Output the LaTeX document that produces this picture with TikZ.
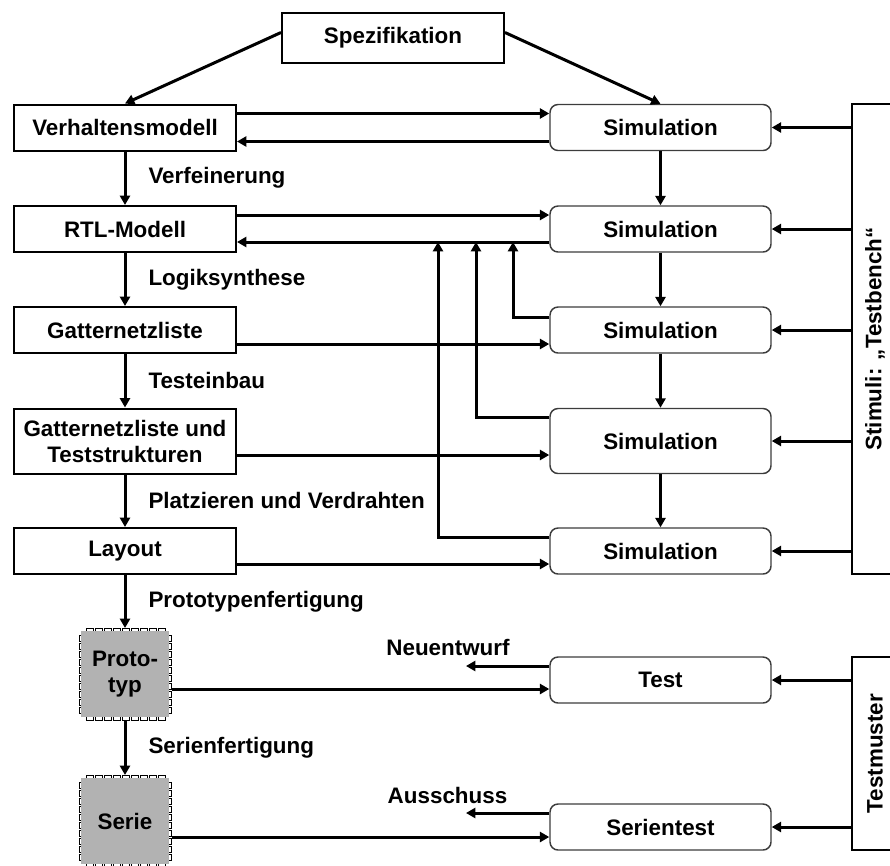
\documentclass[tikz,border=0pt]{standalone}
\usepackage{fontspec}
\usepackage{graphicx}
\setmainfont{Liberation Sans}
\usetikzlibrary{arrows.meta,calc}
\definecolor{chipgrau}{RGB}{178,178,178}
\definecolor{simrand}{RGB}{60,60,60}

\begin{document}
\begin{tikzpicture}[x=0.75pt, y=-0.75pt,
  font=\fontsize{16.8}{19.5}\selectfont\bfseries,
  pfeil/.style={-{Triangle[length=7pt,width=7.5pt]}, line width=2.25pt},
  linie/.style={line width=2.25pt},
  modell/.style={draw, line width=1.5pt, minimum width=166.5pt, minimum height=34.5pt, align=center, inner sep=0pt},
  sim/.style={draw=simrand, line width=1.1pt, rounded corners=6pt, minimum width=165.75pt, minimum height=34.5pt, inner sep=0pt},
  stimbox/.style={draw, line width=1.5pt, minimum width=34.5pt, inner sep=0pt},
  chip/.style={fill=chipgrau, minimum width=66pt, minimum height=64.5pt, align=center, inner sep=0pt, outer sep=2.25pt},
  pin/.style={draw, fill=white, line width=0.6pt},
  lbl/.style={anchor=west, inner sep=0pt, xshift=16.5pt}]
  \clip (0,0) rectangle (890,865);

  % linke Spalte
  \node[modell, minimum height=37.5pt] at (393,37.5) (spez) {Spezifikation};
  \node[modell] at (125,127.5) (verh) {Verhaltensmodell};
  \node[modell] at (125,229) (rtl) {RTL-Modell};
  \node[modell] at (125,330) (gnl) {Gatternetzliste};
  \node[modell, minimum height=48.75pt] at (125,441) (gts) {Gatternetzliste und\\Teststrukturen};
  \node[modell] at (125,551) (lay) {Layout};

  % Chips mit Pins
  \foreach \cy in {674,821} {
    \foreach \k in {0,...,8} {
      \draw[pin] (86+9*\k,\cy-46) rectangle ++(7,5);
      \draw[pin] (86+9*\k,\cy+41) rectangle ++(7,5);
    }
    \foreach \k in {0,...,9} {
      \draw[pin] (79,\cy-39+8*\k) rectangle ++(5,6);
      \draw[pin] (166,\cy-39+8*\k) rectangle ++(5,6);
    }
  }
  \node[chip] at (125,674) (proto) {Proto-\\typ};
  \node[chip] at (125,821) (serie) {Serie};

  % rechte Spalte
  \node[sim] at (660.5,127.5) (sim1) {Simulation};
  \node[sim] at (660.5,229) (sim2) {Simulation};
  \node[sim] at (660.5,330) (sim3) {Simulation};
  \node[sim, minimum height=48.75pt] at (660.5,441) (sim4) {Simulation};
  \node[sim] at (660.5,551) (sim5) {Simulation};
  \node[sim] at (660.5,680) (test) {Test};
  \node[sim] at (660.5,827) (stest) {Serientest};

  \node[stimbox, minimum height=352.5pt] at (875,339) (stim) {\rotatebox{90}{Stimuli: „Testbench“}};
  \node[stimbox, minimum height=144.75pt] at (875,753.5) (muster) {\rotatebox{90}{Testmuster}};

  \coordinate (fb3) at (513,242);
  \coordinate (fb4) at (476,242);
  \coordinate (fb5) at (438,242);
  \coordinate (neu) at (466,666);
  \coordinate (aus) at (466,813);
  \node at (448,647) (neutxt) {Neuentwurf};
  \node at (447.5,795) (austxt) {Ausschuss};

  % Entwurfsablauf
  \draw[pfeil] ($(spez.west)+(0,-5)$) -- (verh.north);
  \draw[pfeil] ($(spez.east)+(0,-5)$) -- (sim1.north);
  \draw[pfeil] (verh) -- node[lbl] {Verfeinerung} (rtl);
  \draw[pfeil] (rtl) -- node[lbl] {Logiksynthese} (gnl);
  \draw[pfeil] (gnl) -- node[lbl] {Testeinbau} (gts);
  \draw[pfeil] (gts) -- node[lbl] {Platzieren und Verdrahten} (lay);
  \draw[pfeil] (lay) -- node[lbl] {Prototypenfertigung} (proto);
  \draw[pfeil] (proto) -- node[lbl] {Serienfertigung} (serie);

  \draw[pfeil] (sim1) -- (sim2);
  \draw[pfeil] (sim2) -- (sim3);
  \draw[pfeil] (sim3) -- (sim4);
  \draw[pfeil] (sim4) -- (sim5);

  % zur Simulation und zurueck
  \draw[pfeil] ($(verh.east)+(0,-14)$) -- ($(sim1.west)+(0,-14)$);
  \draw[pfeil] ($(sim1.west)+(0,14)$) -- ($(verh.east)+(0,14)$);
  \draw[pfeil] ($(rtl.east)+(0,-14)$) -- ($(sim2.west)+(0,-14)$);
  \draw[pfeil] ($(sim2.west)+(0,13)$) -- ($(rtl.east)+(0,13)$);
  \draw[pfeil] ($(gnl.east)+(0,14)$) -- ($(sim3.west)+(0,14)$);
  \draw[pfeil] ($(gts.east)+(0,14)$) -- ($(sim4.west)+(0,14)$);
  \draw[pfeil] ($(lay.east)+(0,13)$) -- ($(sim5.west)+(0,13)$);
  \draw[pfeil] ($(sim3.west)+(0,-13)$) -| (fb3);
  \draw[pfeil] ($(sim4.west)+(0,-24)$) -| (fb4);
  \draw[pfeil] ($(sim5.west)+(0,-14)$) -| (fb5);

  % Test
  \draw[pfeil] ($(proto.east)+(0,15)$) -- ($(test.west)+(0,9)$);
  \draw[pfeil] ($(serie.east)+(0,16)$) -- ($(stest.west)+(0,10)$);
  \draw[pfeil] ($(test.west)+(0,-14)$) -- (neu);
  \draw[pfeil] ($(stest.west)+(0,-14)$) -- (aus);

  % Stimuli
  \foreach \s in {sim1,sim2,sim3,sim4,sim5} {
    \draw[pfeil] (stim.west |- \s) -- (\s.east);
  }
  \draw[pfeil] (muster.west |- test) -- (test.east);
  \draw[pfeil] (muster.west |- stest) -- (stest.east);
\end{tikzpicture}
\end{document}
